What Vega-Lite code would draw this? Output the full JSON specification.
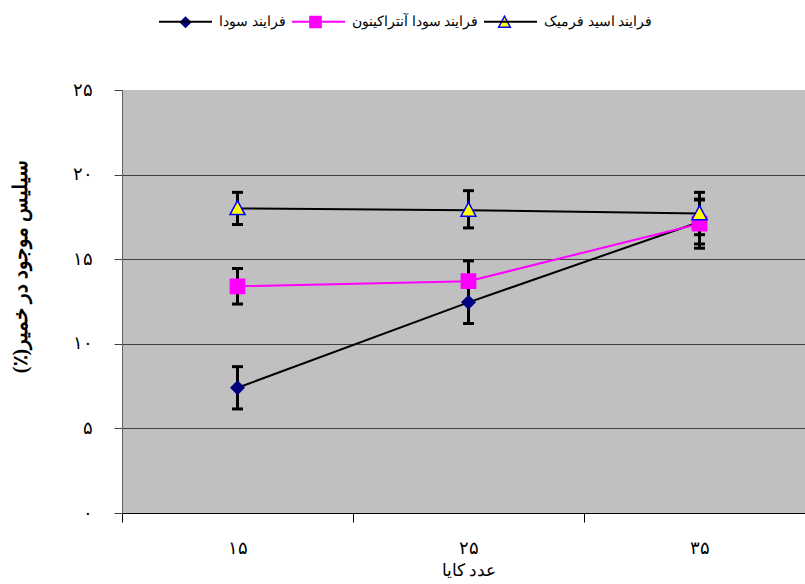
{
  "$schema": "https://vega.github.io/schema/vega-lite/v6.json",
  "width": 693,
  "height": 423,
  "autosize": {"type": "none"},
  "padding": {"left": 122, "top": 90, "right": 0, "bottom": 71},
  "background": "white",
  "config": {
    "view": {"fill": "#C0C0C0", "stroke": null},
    "font": "Liberation Serif",
    "axis": {"labelColor": "black", "titleColor": "black", "labelFont": "Liberation Serif", "titleFont": "Liberation Serif"},
    "legend": {"labelFont": "Liberation Serif", "labelColor": "black"}
  },
  "data": {
    "values": [
      {"kappa": 15, "process": "فرایند سودا", "silica": 7.4, "lower": 6.15, "upper": 8.65},
      {"kappa": 25, "process": "فرایند سودا", "silica": 12.45, "lower": 11.2, "upper": 13.7},
      {"kappa": 35, "process": "فرایند سودا", "silica": 17.2, "lower": 15.9, "upper": 18.5},
      {"kappa": 15, "process": "فرایند سودا آنتراکینون", "silica": 13.4, "lower": 12.35, "upper": 14.45},
      {"kappa": 25, "process": "فرایند سودا آنتراکینون", "silica": 13.7, "lower": 12.5, "upper": 14.9},
      {"kappa": 35, "process": "فرایند سودا آنتراکینون", "silica": 17.1, "lower": 15.65, "upper": 18.55},
      {"kappa": 15, "process": "فرایند اسید فرمیک", "silica": 18.0, "lower": 17.05, "upper": 18.95},
      {"kappa": 25, "process": "فرایند اسید فرمیک", "silica": 17.9, "lower": 16.85, "upper": 19.05},
      {"kappa": 35, "process": "فرایند اسید فرمیک", "silica": 17.7, "lower": 16.45, "upper": 18.95}
    ]
  },
  "encoding": {
    "x": {
      "field": "kappa",
      "type": "ordinal",
      "bandPosition": 0.5,
      "scale": {"type": "band", "paddingInner": 0, "paddingOuter": 0},
      "axis": {
        "title": "عدد کایا",
        "tickBand": "extent",
        "labelAngle": 0,
        "tickSize": 9,
        "tickColor": "black",
        "domainColor": "black",
        "labelPadding": 17,
        "labelFontSize": 18,
        "titleFontSize": 17,
        "titleFontWeight": "normal",
        "titlePadding": 5,
        "grid": false,
        "labelExpr": "replace(replace(replace(replace(replace(datum.label,'1','۱'),'2','۲'),'3','۳'),'5','۵'),'0','۰')"
      }
    }
  },
  "layer": [
    {
      "mark": {"type": "line", "strokeWidth": 2},
      "encoding": {
        "y": {
          "field": "silica",
          "type": "quantitative",
          "scale": {"domain": [0, 25], "nice": false},
          "axis": {
            "title": "سیلیس موجود در خمیر(٪)‏",
            "values": [0, 5, 10, 15, 20, 25],
            "grid": true,
            "gridColor": {"condition": {"test": "datum.value === 25 || datum.value === 0", "value": "transparent"}, "value": "#404040"},
            "gridWidth": 1,
            "domainColor": "#606060",
            "tickColor": "#404040",
            "tickSize": 8,
            "labelPadding": 22,
            "labelFontSize": 18,
            "titleFontSize": 20,
            "titleFontWeight": "bold",
            "titlePadding": 42,
            "titleY": 176,
            "labelExpr": "replace(replace(replace(replace(replace(datum.label,'1','۱'),'2','۲'),'3','۳'),'5','۵'),'0','۰')"
          }
        },
        "color": {
          "field": "process",
          "type": "nominal",
          "scale": {
            "domain": ["فرایند سودا", "فرایند سودا آنتراکینون", "فرایند اسید فرمیک"],
            "range": ["#000000", "#FF00FF", "#000000"]
          },
          "legend": {
            "title": null,
            "orient": "none",
            "legendX": 36,
            "legendY": -96,
            "direction": "horizontal",
            "padding": 0,
            "symbolType": "stroke",
            "symbolSize": 2809,
            "symbolStrokeWidth": 2,
            "labelFontSize": 14,
            "labelOffset": 6,
            "columnPadding": 2
          }
        }
      }
    },
    {
      "mark": {"type": "rule", "strokeWidth": 3, "color": "black"},
      "encoding": {
        "y": {"field": "lower", "type": "quantitative"},
        "y2": {"field": "upper"}
      }
    },
    {
      "mark": {"type": "point", "shape": "stroke", "size": 121, "strokeWidth": 3, "color": "black", "opacity": 1},
      "encoding": {
        "y": {"field": "lower", "type": "quantitative"}
      }
    },
    {
      "mark": {"type": "point", "shape": "stroke", "size": 121, "strokeWidth": 3, "color": "black", "opacity": 1},
      "encoding": {
        "y": {"field": "upper", "type": "quantitative"}
      }
    },
    {
      "mark": {"type": "point", "filled": true, "size": 4624, "strokeWidth": 1.5, "opacity": 1},
      "encoding": {
        "y": {"field": "silica", "type": "quantitative"},
        "shape": {
          "field": "process",
          "type": "nominal",
          "scale": {
            "domain": ["فرایند سودا", "فرایند سودا آنتراکینون", "فرایند اسید فرمیک"],
            "range": ["M0,-0.19L0.19,0L0,0.19L-0.19,0Z", "M-0.21,-0.21H0.21V0.21H-0.21Z", "M0,-0.23L0.22,0.18L-0.22,0.18Z"]
          },
          "legend": {
            "title": null,
            "orient": "none",
            "legendX": 36,
            "legendY": -96,
            "direction": "horizontal",
            "padding": 0,
            "symbolSize": 2809,
            "symbolStrokeWidth": 1.5,
            "labelFontSize": 14,
            "labelOffset": 6,
            "labelOpacity": 0,
            "columnPadding": 2,
            "encode": {
              "symbols": {
                "update": {
                  "size": {"value": 2809},
                  "strokeWidth": {"value": 1.5}
                }
              }
            }
          }
        },
        "fill": {
          "field": "process",
          "type": "nominal",
          "scale": {
            "domain": ["فرایند سودا", "فرایند سودا آنتراکینون", "فرایند اسید فرمیک"],
            "range": ["#000080", "#FF00FF", "#FFFF00"]
          }
        },
        "stroke": {
          "field": "process",
          "type": "nominal",
          "scale": {
            "domain": ["فرایند سودا", "فرایند سودا آنتراکینون", "فرایند اسید فرمیک"],
            "range": ["#000080", "#FF00FF", "#0000FF"]
          }
        }
      }
    }
  ],
  "resolve": {"legend": {"color": "independent"}}
}
